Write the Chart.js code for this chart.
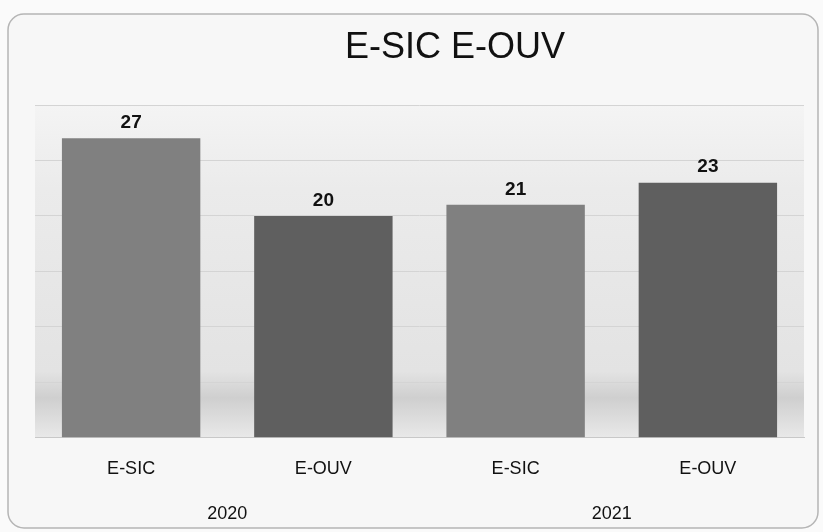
<!DOCTYPE html>
<html lang="pt">
<head>
  <meta charset="UTF-8" />
  <title>E-SIC E-OUV</title>
  <script src="https://cdn.jsdelivr.net/npm/chart.js"></script>
  <style>
    body { margin: 0; background: #fafafa; }
    #wrap { width: 823px; height: 532px; }
  </style>
</head>
<body>
  <div id="wrap"><canvas id="chart" width="823" height="532"></canvas></div>
  <script>
    const chartTitle = 'E-SIC E-OUV';
    const categories = ['E-SIC', 'E-OUV', 'E-SIC', 'E-OUV'];
    const years = ['2020', '2021'];
    const values = [27, 20, 21, 23];
    const barColors = ['#808080', '#5f5f5f', '#808080', '#5f5f5f'];

    // card border + photo-like plot background + title (sits right of centre in the original)
    const backdrop = {
      id: 'backdrop',
      beforeDraw(chart) {
        const { ctx, chartArea: a } = chart;
        ctx.save();
        ctx.fillStyle = '#f7f7f7';
        ctx.beginPath();
        ctx.roundRect(8, 14, 810, 514, 16);
        ctx.fill();
        ctx.strokeStyle = '#b5b5b5';
        ctx.lineWidth = 1.5;
        ctx.stroke();
        const g = ctx.createLinearGradient(0, a.top, 0, a.bottom);
        g.addColorStop(0, '#f4f4f4');
        g.addColorStop(0.25, '#ebebeb');
        g.addColorStop(0.8, '#e3e3e3');
        g.addColorStop(0.88, '#cfcfcf');
        g.addColorStop(1, '#e9e9e9');
        ctx.fillStyle = g;
        ctx.fillRect(a.left, a.top, a.right - a.left, a.bottom - a.top);

        ctx.font = '36px "Liberation Sans", Arial, sans-serif';
        ctx.fillStyle = '#111';
        ctx.textAlign = 'center';
        ctx.textBaseline = 'middle';
        ctx.fillText(chartTitle, 455, 48);
        ctx.restore();
      }
    };

    const valueLabels = {
      id: 'valueLabels',
      afterDatasetsDraw(chart) {
        const { ctx } = chart;
        ctx.save();
        ctx.font = 'bold 19px "Liberation Sans", Arial, sans-serif';
        ctx.fillStyle = '#111';
        ctx.textAlign = 'center';
        ctx.textBaseline = 'bottom';
        chart.getDatasetMeta(0).data.forEach((bar, i) => {
          ctx.fillText(values[i], bar.x, bar.y - 6);
        });
        ctx.restore();
      }
    };

    new Chart(document.getElementById('chart'), {
      type: 'bar',
      data: {
        labels: categories,
        datasets: [{
          data: values,
          backgroundColor: barColors,
          barPercentage: 0.72,
          categoryPercentage: 1
        }]
      },
      options: {
        responsive: false,
        animation: false,
        layout: { padding: { left: 35, right: 19, top: 105, bottom: 3 } },
        plugins: {
          legend: { display: false },
          tooltip: { enabled: false },
          title: { display: false }
        },
        scales: {
          x: {
            grid: { display: false },
            border: { color: '#c8c8c8' },
            ticks: {
              color: '#111',
              padding: 12,
              font: { family: '"Liberation Sans", Arial, sans-serif', size: 18 }
            }
          },
          x2: {
            type: 'category',
            labels: years,
            position: 'bottom',
            offset: true,
            grid: { display: false },
            border: { display: false },
            ticks: {
              color: '#111',
              padding: 4,
              font: { family: '"Liberation Sans", Arial, sans-serif', size: 18 }
            }
          },
          y: {
            min: 0,
            max: 30,
            ticks: { display: false, stepSize: 5 },
            border: { display: false },
            grid: { color: '#d4d4d4', drawTicks: false }
          }
        }
      },
      plugins: [backdrop, valueLabels]
    });
  </script>
</body>
</html>
